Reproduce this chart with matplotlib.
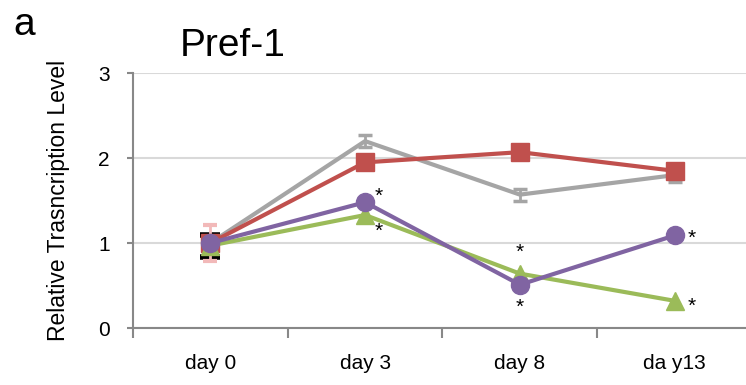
import matplotlib.pyplot as plt

plt.rcParams['font.family'] = ['Liberation Sans', 'DejaVu Sans']

days = ["day 0", "day 3", "day 8", "da y13"]

gray_vals = [1.00, 2.20, 1.57, 1.80]
gray_err = [0.05, 0.07, 0.07, 0.08]
red_vals = [1.00, 1.95, 2.07, 1.85]
red_err = [0.21, 0.07, 0.07, 0.04]
green_vals = [0.97, 1.33, 0.64, 0.32]
green_err = [0.13, 0.0, 0.0, 0.0]
purple_vals = [1.00, 1.48, 0.51, 1.09]

# star marks: (index, offset in points)
purple_stars = [(1, (10, 4)), (2, (0, -16)), (3, (12, -2))]
green_stars = [(1, (10, -12)), (2, (0, 15)), (3, (12, -4))]

fig = plt.figure(figsize=(7.46, 3.85), dpi=100)
ax = fig.add_axes([0.178, 0.148, 0.822, 0.662])
x = list(range(len(days)))

# black caps only show at day 0, behind the markers
shown = [i for i, e in enumerate(green_err) if e > 0]
ax.errorbar([x[i] for i in shown], [green_vals[i] for i in shown],
            yerr=[green_err[i] for i in shown], fmt="none", ecolor="#000000",
            capsize=7, capthick=4, elinewidth=0, zorder=1.5)
ax.errorbar(x, gray_vals, yerr=gray_err, color="#a5a5a5", lw=3, capsize=5,
            capthick=2.5, elinewidth=2, zorder=2)
ax.errorbar(x, red_vals, yerr=red_err, color="#c0504d", lw=3, marker="s",
            ms=13, ecolor="#f2b9b9", capsize=5, capthick=3, elinewidth=2, zorder=3)
ax.plot(x, green_vals, color="#9bbb59", lw=3, marker="^", ms=13, zorder=4)
ax.plot(x, purple_vals, color="#8064a2", lw=3, marker="o", ms=13, zorder=5)

for i, off in purple_stars:
    ax.annotate("*", (x[i], purple_vals[i]), xytext=off, textcoords="offset points",
                ha="center", va="center", fontsize=15, zorder=6)
for i, off in green_stars:
    ax.annotate("*", (x[i], green_vals[i]), xytext=off, textcoords="offset points",
                ha="center", va="center", fontsize=15, zorder=6)

ax.set_ylim(0, 3)
ax.set_xlim(-0.5, 3.46)
ax.set_yticks([0, 1, 2, 3])
ax.yaxis.grid(True, color="#d9d9d9", lw=1.5)
ax.set_axisbelow(True)
ax.set_xticks(x)
ax.set_xticklabels(days)
ax.set_xticks([-0.5, 0.5, 1.5, 2.5], minor=True)
ax.tick_params(axis="x", which="major", length=0, pad=19, labelsize=15)
ax.tick_params(axis="x", which="minor", length=7, width=1.5, color="#888888")
ax.tick_params(axis="y", length=4.5, width=1.5, color="#888888", pad=12, labelsize=15)

for s in ["top", "right"]:
    ax.spines[s].set_visible(False)
for s in ["left", "bottom"]:
    ax.spines[s].set_color("#888888")
    ax.spines[s].set_linewidth(1.5)

ax.set_ylabel("Relative Trasncription Level", fontsize=16.5, labelpad=20)
fig.text(0.241, 0.88, "Pref-1", fontsize=28, va="center")
fig.text(0.018, 0.935, "a", fontsize=28, va="center")

fig.savefig("out.png", dpi=100)
